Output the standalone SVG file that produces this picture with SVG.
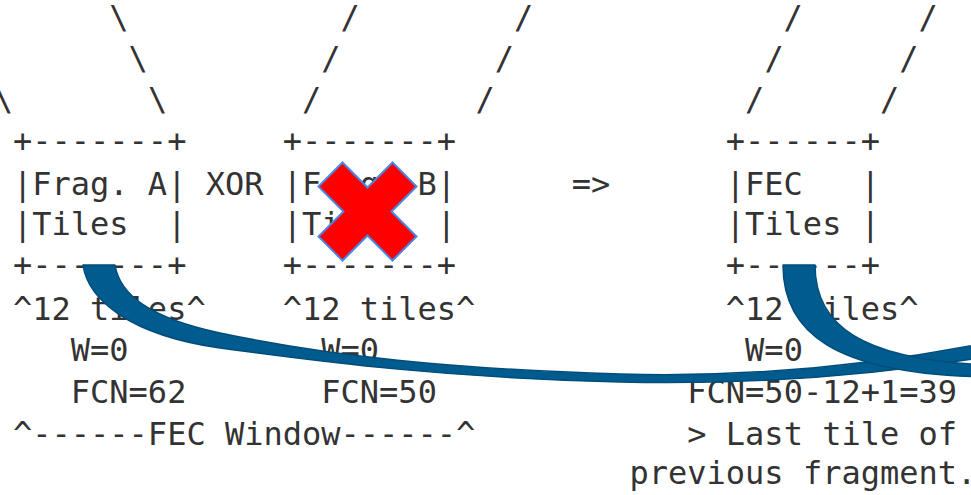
<svg xmlns="http://www.w3.org/2000/svg" width="971" height="495" viewBox="0 0 971 495">
  <style>
    text { font-family: "DejaVu Sans Mono", "Liberation Mono", monospace; font-size: 32px; fill: #333333; white-space: pre; }
    .curve { fill: #005b8f; stroke: #004d7a; stroke-width: 1.5; stroke-linejoin: round; }
    .cross { fill: #ff0000; stroke: #4a86e8; stroke-width: 2; stroke-linejoin: miter; }
  </style>

  <!-- slanted ascii strokes coming down from the fragment row above -->
  <g id="upper-lines">
    <text x="109.3" y="28">\</text>
    <text x="340.5" y="28">/</text>
    <text x="513.9" y="28">/</text>
    <text x="783.6" y="28">/</text>
    <text x="918.5" y="28">/</text>

    <text x="128.6" y="69">\</text>
    <text x="321.3" y="69">/</text>
    <text x="494.7" y="69">/</text>
    <text x="764.4" y="69">/</text>
    <text x="899.2" y="69">/</text>

    <text x="-6.3" y="110">\</text>
    <text x="147.9" y="110">\</text>
    <text x="302" y="110">/</text>
    <text x="475.4" y="110">/</text>
    <text x="745.1" y="110">/</text>
    <text x="879.9" y="110">/</text>
  </g>

  <!-- fragment A -->
  <g id="frag-a">
    <text x="13" y="152">+-------+</text>
    <text x="13" y="194.5" xml:space="preserve">|Frag. A|</text>
    <text x="13" y="235" xml:space="preserve">|Tiles  |</text>
    <text x="13" y="276">+-------+</text>
    <text x="13" y="319.5">^12 tiles^</text>
    <text x="70.8" y="361">W=0</text>
    <text x="70.8" y="402.5">FCN=62</text>
  </g>

  <g id="xor-op">
    <text x="205.7" y="194.5">XOR</text>
  </g>

  <!-- fragment B (lost) -->
  <g id="frag-b">
    <text x="282.7" y="152">+-------+</text>
    <text x="282.7" y="194.5" xml:space="preserve">|Frag. B|</text>
    <text x="282.7" y="235" xml:space="preserve">|Tiles  |</text>
    <text x="282.7" y="276">+-------+</text>
    <text x="282.7" y="319.5">^12 tiles^</text>
    <text x="321.3" y="361">W=0</text>
    <text x="321.3" y="402.5">FCN=50</text>
    <polygon class="cross" points="367.5,187.5 392.5,162.5 416.5,186.5 391.5,211.5 416.5,236.5 392.5,260.5 367.5,235.5 342.5,260.5 318.5,236.5 343.5,211.5 318.5,186.5 342.5,162.5"/>
  </g>

  <g id="result-op">
    <text x="571.7" y="194.5">=&gt;</text>
  </g>

  <!-- resulting FEC fragment -->
  <g id="fec">
    <text x="725.8" y="152">+------+</text>
    <text x="725.8" y="194.5" xml:space="preserve">|FEC   |</text>
    <text x="725.8" y="235" xml:space="preserve">|Tiles |</text>
    <text x="725.8" y="276">+------+</text>
    <text x="725.8" y="319.5">^12 tiles^</text>
    <text x="745.1" y="361">W=0</text>
    <text x="687.3" y="402.5">FCN=50-12+1=39</text>
    <text x="687.3" y="444.5">&gt; Last tile of</text>
    <text x="629.5" y="483.5">previous fragment.</text>
  </g>

  <g id="fec-window">
    <text x="13" y="444.5">^------FEC Window------^</text>
  </g>

  <!-- curved connectors leaving the bottom of the tile boxes -->
  <g id="connectors">
    <path class="curve" d="M83,265 C88,300 130,335 220,348 C330,363 450,378 620,382 C760,385 880,375 990,356 L990,342 C880,364 760,378 620,374 C450,369 330,356 220,333 C150,318 120,295 115,265 Z"/>
    <path class="curve" d="M783,265 C783,330 830,375 990,377 L990,365 C860,360 815,325 815,265 Z"/>
  </g>
</svg>
